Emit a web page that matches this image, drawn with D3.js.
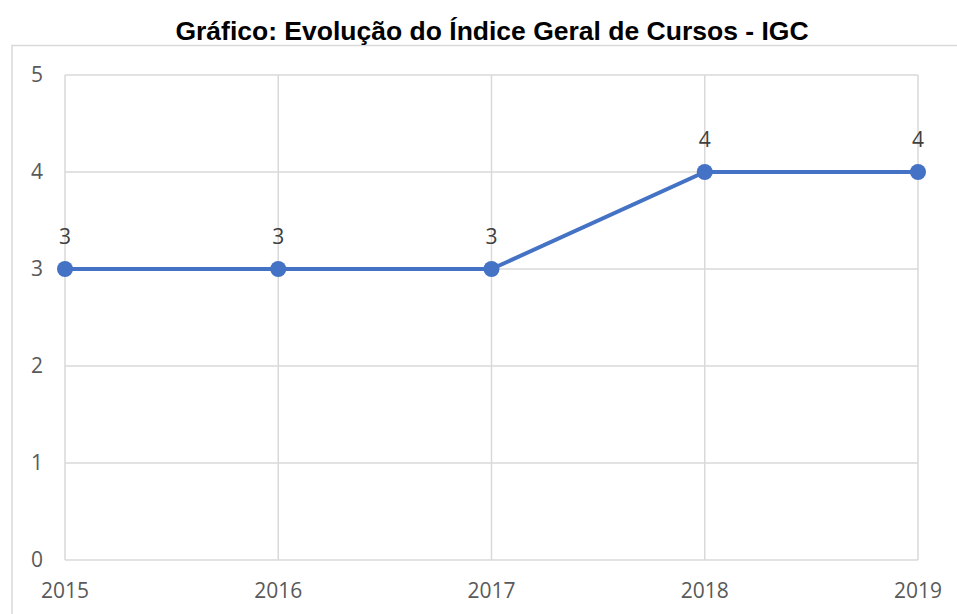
<!DOCTYPE html>
<html>
<head>
<meta charset="utf-8">
<script src="https://cdn.jsdelivr.net/npm/d3@7"></script>
<style>
  body { margin: 0; background: #fff; }
  svg { display: block; }
  .title { font-family: "Liberation Sans", Arial, sans-serif; font-weight: bold; font-size: 26.5px; fill: #000; }
  .tick-label { font-family: "Open Sans", sans-serif; font-size: 21px; fill: #595959; }
  .data-label { font-family: "Open Sans", sans-serif; font-size: 21px; fill: #404040; }
</style>
</head>
<body>
<svg id="chart"></svg>
<script>
const years = ['2015', '2016', '2017', '2018', '2019'];
const igc = [3, 3, 3, 4, 4];
const yTicks = [0, 1, 2, 3, 4, 5];
const chartTitle = 'Gráfico: Evolução do Índice Geral de Cursos - IGC';

const W = 957, H = 614;
const margin = {top: 75, right: 39, bottom: 54, left: 65};
const width = W - margin.left - margin.right;
const height = H - margin.top - margin.bottom;

const svg = d3.select('#chart').attr('width', W).attr('height', H);

// outer chart frame (cut off at right and bottom like the reference)
svg.append('rect')
    .attr('x', 12).attr('y', 45.5)
    .attr('width', W + 20).attr('height', H)
    .attr('fill', 'none')
    .attr('stroke', '#d9d9d9')
    .attr('stroke-width', 1.5);

svg.append('text')
    .attr('class', 'title')
    .attr('x', 492)
    .attr('y', 40)
    .attr('text-anchor', 'middle')
    .text(chartTitle);

const g = svg.append('g')
    .attr('transform', 'translate(' + margin.left + ',' + margin.top + ')');

const x = d3.scalePoint().domain(years).range([0, width]);
const y = d3.scaleLinear().domain([0, 5]).range([height, 0]);

// gridlines
g.selectAll('.hgrid').data(yTicks).enter().append('line')
    .attr('x1', 0).attr('x2', width)
    .attr('y1', d => y(d)).attr('y2', d => y(d))
    .attr('stroke', '#d9d9d9').attr('stroke-width', 1.5);
g.selectAll('.vgrid').data(years).enter().append('line')
    .attr('x1', d => x(d)).attr('x2', d => x(d))
    .attr('y1', 0).attr('y2', height)
    .attr('stroke', '#d9d9d9').attr('stroke-width', 1.5);

// axis labels
g.selectAll('.ylab').data(yTicks).enter().append('text')
    .attr('class', 'tick-label')
    .attr('x', -22)
    .attr('y', d => y(d))
    .attr('dy', '0.35em')
    .attr('text-anchor', 'end')
    .text(d => d);
g.selectAll('.xlab').data(years).enter().append('text')
    .attr('class', 'tick-label')
    .attr('x', d => x(d))
    .attr('y', height + 38)
    .attr('text-anchor', 'middle')
    .text(d => d);

// series
const pts = years.map((yr, i) => [yr, igc[i]]);
const line = d3.line().x(d => x(d[0])).y(d => y(d[1]));
g.append('path')
    .datum(pts)
    .attr('d', line)
    .attr('fill', 'none')
    .attr('stroke', '#4472c4')
    .attr('stroke-width', 4);
g.selectAll('.dot').data(pts).enter().append('circle')
    .attr('cx', d => x(d[0]))
    .attr('cy', d => y(d[1]))
    .attr('r', 8)
    .attr('fill', '#4472c4');
g.selectAll('.dlab').data(pts).enter().append('text')
    .attr('class', 'data-label')
    .attr('x', d => x(d[0]))
    .attr('y', d => y(d[1]) - 25)
    .attr('text-anchor', 'middle')
    .text(d => d[1]);
</script>
</body>
</html>
